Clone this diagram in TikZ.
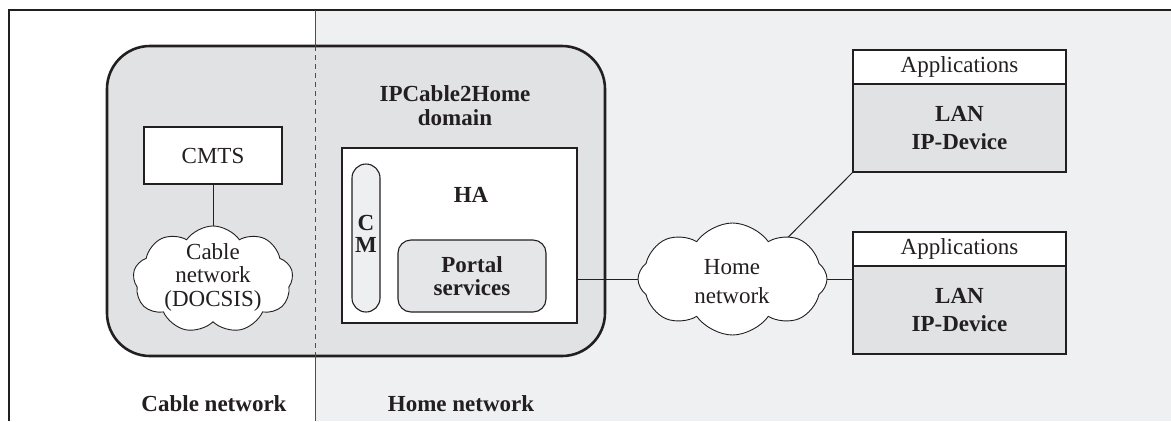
\documentclass[tikz,border=0pt]{standalone}
\usepackage{fontspec}
\setmainfont{Liberation Serif}
\usetikzlibrary{shapes.symbols}
\definecolor{ink}{RGB}{35,31,32}
\definecolor{homebg}{RGB}{239,240,242}
\definecolor{domainbg}{RGB}{225,226,228}
\definecolor{portalbg}{RGB}{229,230,232}
\definecolor{pillbg}{RGB}{238,239,241}
\pgfdeclarelayer{backdrop}
\pgfdeclarelayer{links}
\pgfsetlayers{backdrop,links,main}

\begin{document}
\begin{tikzpicture}[x=1pt,y=-1pt,
  txt/.style={font=\fontsize{23}{24}\selectfont, align=center, text=ink, inner sep=0pt, outer sep=0pt},
  boldtxt/.style={txt, font=\fontsize{23}{24}\selectfont\bfseries},
  thickbox/.style={draw=ink, line width=2.6pt, inner sep=0pt, outer sep=0pt},
  thinbox/.style={draw=ink, line width=1.1pt, inner sep=0pt, outer sep=0pt},
  netcloud/.style={cloud, cloud ignores aspect, cloud puff arc=110, draw=ink, line width=0.9pt,
                   fill=white, inner sep=0pt, outer sep=0pt},
  link/.style={draw=ink, line width=1pt},
  divider/.style={draw=ink!80, line width=1pt}]

\useasboundingbox (0,0) rectangle (1171,421);

% regions, frame and the cable/home divider
\begin{pgfonlayer}{backdrop}
  \fill[white] (0,0) rectangle (1171,421);
  \fill[homebg] (315,10) rectangle (1171,421);
  \draw[ink, line width=2.6pt, line join=miter] (9,421) -- (9,10) -- (1175,10);
  \node[thickbox, fill=domainbg, rounded corners=43pt,
        minimum width=498pt, minimum height=310pt] (domain) at (356,201) {};
  \coordinate (divtop) at (315,10);
  \coordinate (divbot) at (315,421);
  \draw[divider] (divtop) -- (divtop |- domain.north);
  \draw[divider, dash pattern=on 5pt off 4pt] (divtop |- domain.north) -- (divtop |- domain.south);
  \draw[divider] (divtop |- domain.south) -- (divbot);
\end{pgfonlayer}

% IPCable2Home domain
\node[boldtxt] (domainlabel) at (455,105.5) {IPCable2Home\\domain};

\node[thickbox, fill=white, minimum width=138pt, minimum height=57pt, txt] (cmts) at (213,155.5) {CMTS};
\node[netcloud, cloud puffs=9, minimum width=160pt, minimum height=107pt] (cablenet) at (213,279.5) {};
\node[txt, font=\fontsize{23}{23.5}\selectfont] (cabletext) at (213,277) {Cable\\network\\(DOCSIS)};

\node[thickbox, fill=white, minimum width=235pt, minimum height=175pt] (ha) at (459.5,235.5) {};
\node[boldtxt] (halabel) at (471,195) {HA};
\node[thinbox, fill=pillbg, rounded corners=14pt, minimum width=28pt, minimum height=148pt] (cm) at (366,238) {};
\node[boldtxt, font=\fontsize{23}{22}\selectfont\bfseries] (cmtext) at (366,234) {C\\M};
\node[thinbox, fill=portalbg, rounded corners=13pt, minimum width=148pt, minimum height=72pt,
      boldtxt, font=\fontsize{23}{23}\selectfont\bfseries] (portal) at (472,276) {Portal\\services};

% home network
\node[netcloud, cloud puffs=8, minimum width=189pt, minimum height=112pt] (homenet) at (732.5,279) {};
\node[txt, font=\fontsize{23}{29}\selectfont] (hometext) at (732,282) {Home\\network};

% LAN devices
\node[thickbox, fill=white, minimum width=213pt, minimum height=34pt, txt] (apps1) at (959.5,67) {Applications};
\node[thickbox, fill=domainbg, minimum width=213pt, minimum height=88pt,
      boldtxt, font=\fontsize{23}{28}\selectfont\bfseries] (lan1) at (959.5,128) {LAN\\IP-Device};
\node[thickbox, fill=white, minimum width=213pt, minimum height=34pt, txt] (apps2) at (959.5,249) {Applications};
\node[thickbox, fill=domainbg, minimum width=213pt, minimum height=88pt,
      boldtxt, font=\fontsize{23}{28}\selectfont\bfseries] (lan2) at (959.5,310) {LAN\\IP-Device};

% connectors, kept under the shapes
\begin{pgfonlayer}{links}
  \draw[link] (cmts.south) -- (cablenet.center);
  \draw[link] (ha.east |- homenet.center) -- (homenet.center);
  \draw[link] (homenet.center) -- (homenet.center -| lan2.west);
  \draw[link, shorten >=-12pt] (lan1.south west) -- (homenet.37);
\end{pgfonlayer}

% area captions
\node[boldtxt] (cablecap) at (214,404) {Cable network};
\node[boldtxt] (homecap) at (461,404) {Home network};

\end{tikzpicture}
\end{document}
